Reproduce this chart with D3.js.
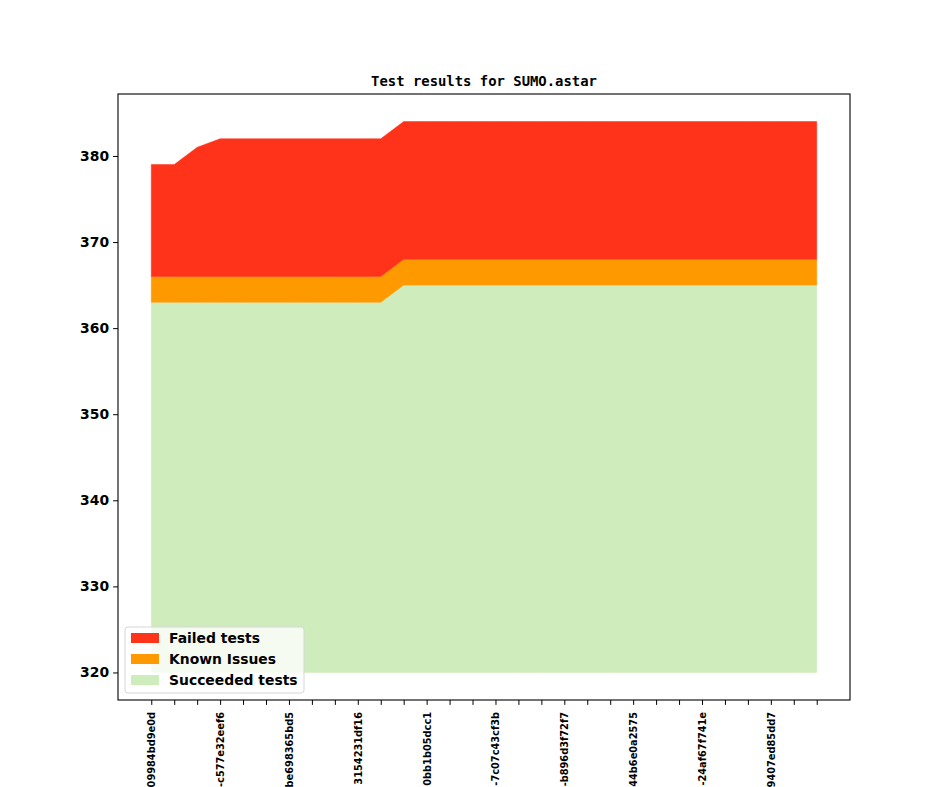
<!DOCTYPE html>
<html>
  <head>
    <title>Test results for SUMO.astar</title>
    <script src="https://d3js.org/d3.v7.js"></script>
    <style>
      body { margin: 0; background: #fff; }
      text { font-family: 'DejaVu Sans', sans-serif; }
    </style>
  </head>
  <body>
    <svg width="944" height="787"></svg>

    <script>
      (function (d3) {
        'use strict';

        const titleText = 'Test results for SUMO.astar';

        // one entry per tested revision (only every third one gets a label)
        const revisions = [
          '09984bd9e0d', '', '',
          '-c577e32eef6', '', '',
          'be698365bd5', '', '',
          '3154231df16', '', '',
          '0bb1b05dcc1', '', '',
          '-7c07c43cf3b', '', '',
          '-b896d3f72f7', '', '',
          '44b6e0a2575', '', '',
          '-24af67f741e', '', '',
          '9407ed85dd7', '', '',
        ];

        const succeeded = [
          363, 363, 363, 363, 363, 363, 363, 363, 363, 363, 363,
          365, 365, 365, 365, 365, 365, 365, 365, 365, 365,
          365, 365, 365, 365, 365, 365, 365, 365, 365,
        ];
        const knownIssues = [
          3, 3, 3, 3, 3, 3, 3, 3, 3, 3, 3, 3, 3, 3, 3,
          3, 3, 3, 3, 3, 3, 3, 3, 3, 3, 3, 3, 3, 3, 3,
        ];
        const failed = [
          13, 13, 15, 16, 16, 16, 16, 16, 16, 16, 16, 16, 16, 16, 16,
          16, 16, 16, 16, 16, 16, 16, 16, 16, 16, 16, 16, 16, 16, 16,
        ];
        const baseline = 320;
        const yTicks = [320, 330, 340, 350, 360, 370, 380];

        const seriesNames = ['Succeeded tests', 'Known Issues', 'Failed tests'];
        const colors = ['#cfecbd', '#fe9900', '#ff321a'];

        const svg = d3.select('svg');
        const margin = { top: 94, right: 94, bottom: 87, left: 118 };
        const width = +svg.attr('width');
        const height = +svg.attr('height');
        const innerWidth = width - margin.left - margin.right;
        const innerHeight = height - margin.top - margin.bottom;

        // stack the three series on top of the baseline
        const table = revisions.map((r, i) => ({
          i: i,
          s: succeeded[i],
          k: knownIssues[i],
          f: failed[i],
        }));
        const layers = [
          table.map((d) => [baseline, d.s]),
          table.map((d) => [d.s, d.s + d.k]),
          table.map((d) => [d.s + d.k, d.s + d.k + d.f]),
        ];

        const n = revisions.length - 1;
        const xScale = d3
          .scaleLinear()
          .domain([-0.05 * n, n * 1.05])
          .range([0, innerWidth]);

        const top = d3.max(layers[2], (d) => d[1]);
        const span = top - baseline;
        const yScale = d3
          .scaleLinear()
          .domain([baseline - 0.05 * span, top + 0.05 * span])
          .range([innerHeight, 0]);

        const g = svg
          .append('g')
          .attr('transform', `translate(${margin.left},${margin.top})`);

        const area = d3
          .area()
          .x((d, i) => xScale(i))
          .y0((d) => yScale(d[0]))
          .y1((d) => yScale(d[1]));

        g.selectAll('path.layer')
          .data(layers)
          .enter()
          .append('path')
          .attr('class', 'layer')
          .attr('fill', (d, i) => colors[i])
          .attr('stroke', (d, i) => colors[i])
          .attr('stroke-width', 0.5)
          .attr('d', area);

        // y axis
        const yAxis = d3
          .axisLeft(yScale)
          .tickValues(yTicks)
          .tickSize(4.9)
          .tickPadding(4);
        const yAxisG = g.append('g').call(yAxis);
        yAxisG.select('.domain').remove();
        yAxisG
          .selectAll('text')
          .style('font-size', '13.9px')
          .style('font-weight', 'bold')
          .attr('fill', '#000');

        // x axis, rotated labels read bottom to top and stop just below the ticks
        const xAxis = d3
          .axisBottom(xScale)
          .tickValues(d3.range(revisions.length))
          .tickFormat((i) => revisions[i])
          .tickSize(4.9)
          .tickPadding(0);
        const xAxisG = g
          .append('g')
          .attr('transform', `translate(0,${innerHeight})`)
          .call(xAxis);
        xAxisG.select('.domain').remove();
        xAxisG
          .selectAll('text')
          .attr('transform', 'translate(0,12) rotate(-90)')
          .attr('x', 0)
          .attr('y', 0)
          .attr('dy', '0.35em')
          .style('text-anchor', 'end')
          .style('font-size', '9.8px')
          .style('font-weight', 'bold')
          .attr('fill', '#000');

        // frame
        g.append('rect')
          .attr('width', innerWidth)
          .attr('height', innerHeight)
          .attr('fill', 'none')
          .attr('stroke', '#000')
          .attr('stroke-width', 1.1);

        // title
        g.append('text')
          .attr('x', innerWidth / 2)
          .attr('y', -8)
          .attr('text-anchor', 'middle')
          .style('font-family', "'DejaVu Sans Mono', monospace")
          .style('font-weight', 'bold')
          .style('font-size', '13.9px')
          .text(titleText);

        // legend, lower left
        const legendItems = [2, 1, 0];
        const legend = g.append('g').attr('transform', 'translate(7,533)');
        legend
          .append('rect')
          .attr('width', 179)
          .attr('height', 66)
          .attr('rx', 3)
          .attr('fill', '#fff')
          .attr('fill-opacity', 0.8)
          .attr('stroke', '#d6d6d6')
          .attr('stroke-width', 1);
        legend
          .selectAll('rect.swatch')
          .data(legendItems)
          .enter()
          .append('rect')
          .attr('class', 'swatch')
          .attr('x', 6)
          .attr('y', (d, i) => 6 + i * 21)
          .attr('width', 28)
          .attr('height', 10)
          .attr('fill', (d) => colors[d]);
        legend
          .selectAll('text')
          .data(legendItems)
          .enter()
          .append('text')
          .attr('x', 44)
          .attr('y', (d, i) => 11 + i * 21)
          .attr('dy', '0.35em')
          .style('font-size', '13.9px')
          .style('font-weight', 'bold')
          .text((d) => seriesNames[d]);
      })(d3);
    </script>
  </body>
</html>
